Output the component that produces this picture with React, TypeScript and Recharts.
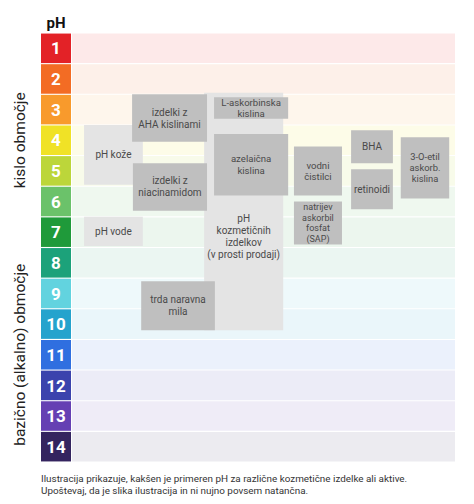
import React from 'react';
import { ComposedChart, XAxis, YAxis, ReferenceArea } from 'recharts';

const PH_VALUES = [1, 2, 3, 4, 5, 6, 7, 8, 9, 10, 11, 12, 13, 14];
const CELL_COLORS = ['#e32227', '#f36c24', '#f89a2c', '#f0e226', '#bcd63a', '#6bc26a', '#1f9a3a', '#1ca27a', '#62d3df', '#25a3cd', '#2f6fe0', '#3b43ad', '#6540b3', '#34245f'];
const BAND_COLORS = ['#fde9e9', '#fdf0e9', '#fef6ec', '#fdfce8', '#f8fbea', '#eff8ef', '#ecf6ee', '#ebf6f2', '#eef9fb', '#eaf6fa', '#ebf1fc', '#ececf7', '#efecf7', '#ecebf0'];

const ZONE_LABELS = ['kislo območje', 'bazično (alkalno) območje'];
const ZONE_FROM = [0.5, 7.5];
const ZONE_TO = [7.5, 14.5];

const HEADER = 'pH';
const FOOTER_LINES = [
  'Ilustracija prikazuje, kakšen je primeren pH za različne kozmetične izdelke ali aktive.',
  'Upoštevaj, da je slika ilustracija in ni nujno povsem natančna.',
];

const ITEM_LABELS = [
  ['pH', 'kozmetičnih', 'izdelkov', '(v prosti prodaji)'],
  ['pH kože'],
  ['pH vode'],
  ['izdelki z', 'AHA kislinami'],
  ['izdelki z', 'niacinamidom'],
  ['trda naravna', 'mila'],
  ['L-askorbinska', 'kislina'],
  ['azelaična', 'kislina'],
  ['vodni', 'čistilci'],
  ['natrijev', 'askorbil', 'fosfat', '(SAP)'],
  ['BHA'],
  ['retinoidi'],
  ['3-O-etil', 'askorb.', 'kislina'],
];
const ITEM_PH_LOW = [2.45, 3.5, 6.5, 2.5, 4.75, 8.6, 2.6, 3.8, 4.2, 6.0, 3.67, 4.95, 3.9];
const ITEM_PH_HIGH = [10.2, 5.45, 7.45, 4.05, 6.3, 10.2, 3.3, 5.8, 5.8, 7.4, 4.75, 6.25, 5.9];
const ITEM_TEXT_AT = [7.13, null, null, null, null, null, null, null, null, null, null, null, null];
const ITEM_COL_START = [39.4, 10.4, 10.4, 22, 22.2, 24.2, 41.8, 41.8, 61.1, 61.1, 74.9, 74.9, 86.9];
const ITEM_COL_END = [58.5, 24.6, 24.6, 40.1, 40.1, 42, 59.7, 59.7, 72.7, 72.7, 85, 85, 98.6];
const ITEM_TONE = ['light', 'light', 'light', 'dark', 'dark', 'dark', 'dark', 'dark', 'dark', 'dark', 'dark', 'dark', 'dark'];
const ITEM_FONT = [10, 10, 10, 10, 10, 10, 9.6, 9.6, 9.6, 9, 10, 10, 9.4];
const ITEM_GAP = [12, 12, 12, 12, 12, 12, 11.3, 11.3, 11.3, 10.6, 12, 12, 11];

const CELL_COL = [0, 7.25];
const BAND_COL = [7.5, 100];

const FONT = "Roboto, 'Liberation Sans', sans-serif";
const TONE_FILL: Record<string, string> = { light: '#e4e4e4', dark: '#bfbfbf' };
const TEXT_FILL = '#4a4a4a';

const makeBoxLabel = (lines: string[], frac: number, size: number, gap: number) => (props: any) => {
  const vb = props.viewBox || {};
  const cx = vb.x + vb.width / 2;
  const cy = vb.y + vb.height * frac;
  const start = cy - ((lines.length - 1) * gap) / 2;
  return (
    <text textAnchor="middle" fontSize={size} fill={TEXT_FILL} fontFamily={FONT}>
      {lines.map((l, i) => (
        <tspan key={i} x={cx} y={start + i * gap} dy="0.35em">
          {l}
        </tspan>
      ))}
    </text>
  );
};

const makeCellLabel = (value: number, withHeader: boolean) => (props: any) => {
  const vb = props.viewBox || {};
  const cx = vb.x + vb.width / 2;
  const cy = vb.y + vb.height / 2;
  return (
    <g>
      <text x={cx} y={cy} dy="0.36em" textAnchor="middle" fontSize={17} fontWeight={700} fill="#ffffff" fontFamily={FONT}>
        {value}
      </text>
      {withHeader ? (
        <text x={cx} y={vb.y - 6} textAnchor="middle" fontSize={15} fontWeight={700} fill="#111" fontFamily={FONT}>
          {HEADER}
        </text>
      ) : null}
    </g>
  );
};

const makeZoneLabel = (label: string) => (props: any) => {
  const vb = props.viewBox || {};
  const x = vb.x - 21;
  const y = vb.y + vb.height / 2;
  return (
    <text x={x} y={y} dy="0.35em" textAnchor="middle" fontSize={15.5} fill="#222" fontFamily={FONT} transform={`rotate(-90 ${x} ${y})`}>
      {label}
    </text>
  );
};

const footerLabel = (props: any) => {
  const vb = props.viewBox || {};
  return (
    <text fontSize={9.9} fill="#333" fontFamily={FONT}>
      {FOOTER_LINES.map((l, i) => (
        <tspan key={i} x={vb.x} y={vb.y + vb.height + 20 + i * 11.7}>
          {l}
        </tspan>
      ))}
    </text>
  );
};

const data = PH_VALUES.map((ph) => ({ ph }));
const GAP = 0.018;

export default function App() {
  const order = ITEM_LABELS.map((_, i) => i);
  return (
    <div style={{ position: 'absolute', left: 0, top: 0, width: 474, height: 504, background: '#fff' }}>
      <ComposedChart width={474} height={504} data={data} margin={{ top: 33, right: 19, bottom: 42, left: 41 }}>
        <XAxis type="number" dataKey="ph" domain={[0, 100]} allowDataOverflow hide />
        <YAxis type="number" domain={[0.5, 14.5]} allowDataOverflow reversed hide />
        {PH_VALUES.map((ph, i) => (
          <ReferenceArea
            key={`band-${ph}`}
            x1={BAND_COL[0]}
            x2={BAND_COL[1]}
            y1={ph - 0.5 + GAP}
            y2={ph + 0.5 - GAP}
            fill={BAND_COLORS[i]}
            fillOpacity={1}
            stroke="none"
            ifOverflow="visible"
          />
        ))}
        {PH_VALUES.map((ph, i) => (
          <ReferenceArea
            key={`cell-${ph}`}
            x1={CELL_COL[0]}
            x2={CELL_COL[1]}
            y1={ph - 0.5 + GAP}
            y2={ph + 0.5 - GAP}
            fill={CELL_COLORS[i]}
            fillOpacity={1}
            stroke="none"
            ifOverflow="visible"
            label={makeCellLabel(ph, i === 0)}
          />
        ))}
        {ZONE_LABELS.map((z, i) => (
          <ReferenceArea
            key={`zone-${i}`}
            x1={CELL_COL[0]}
            x2={CELL_COL[1]}
            y1={ZONE_FROM[i]}
            y2={ZONE_TO[i]}
            fill="none"
            fillOpacity={0}
            stroke="none"
            ifOverflow="visible"
            label={makeZoneLabel(z)}
          />
        ))}
        {order.map((i) => {
          const lo = ITEM_PH_LOW[i];
          const hi = ITEM_PH_HIGH[i];
          const at = ITEM_TEXT_AT[i];
          const frac = at == null ? 0.5 : (at - lo) / (hi - lo);
          return (
            <ReferenceArea
              key={`item-${i}`}
              x1={ITEM_COL_START[i]}
              x2={ITEM_COL_END[i]}
              y1={lo}
              y2={hi}
              fill={TONE_FILL[ITEM_TONE[i]]}
              fillOpacity={1}
              stroke="none"
              ifOverflow="visible"
              label={makeBoxLabel(ITEM_LABELS[i], frac, ITEM_FONT[i], ITEM_GAP[i])}
            />
          );
        })}
        <ReferenceArea
          x1={CELL_COL[0]}
          x2={BAND_COL[1]}
          y1={ZONE_FROM[0]}
          y2={ZONE_TO[1]}
          fill="none"
          fillOpacity={0}
          stroke="none"
          ifOverflow="visible"
          label={footerLabel}
        />
      </ComposedChart>
    </div>
  );
}
